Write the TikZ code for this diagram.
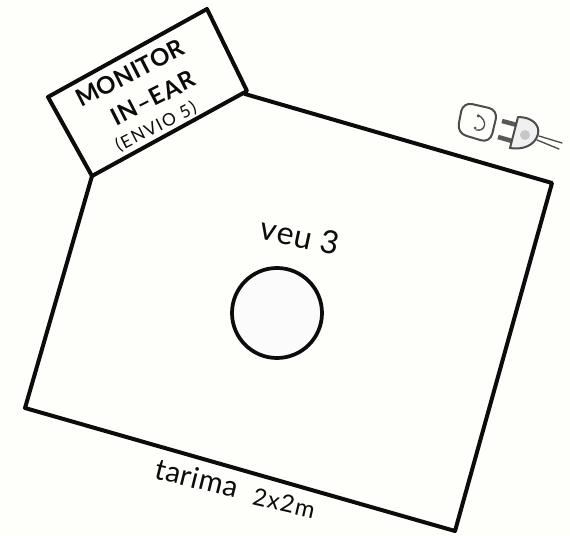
\documentclass[tikz,border=0pt]{standalone}
\usepackage{fontspec}
\setsansfont{Lato}
\definecolor{paper}{RGB}{254,254,251}
\definecolor{ink}{RGB}{12,12,12}
\tikzset{
  outline/.style={draw=ink,line width=3pt,line join=round,line cap=round},
  plugline/.style={draw=black!70,line width=1pt,line join=round,line cap=round},
  lab/.style={font=\sffamily,text=ink,inner sep=0pt}
}
\begin{document}
\begin{tikzpicture}[x=0.75pt,y=-0.75pt]
\fill[paper] (0,0) rectangle (570,535);
\useasboundingbox (0,0) rectangle (570,535);
\draw[outline] (92,176) -- (25,408) -- (455,531) -- (552,183) -- (245,94);
\draw[outline] (48,97) -- (207,9) -- (247,91) -- (92,176) -- cycle;
\draw[outline,line width=2.8pt,fill=black!1.5] (277,313) circle (45);
\foreach \x/\y/\rot/\siz/\spc/\wgt/\lab/\nam in {
  130/73/27/18/1/\bfseries/{MONITOR}/monitor,
  153/98/27/18/5/\bfseries/{IN--EAR}/inear,
  156/127/27/13/9/\mdseries/{(ENVIO 5)}/envio,
  300/236/-12/24/2/\mdseries/{veu 3}/veu,
  197/478/-14/22/2/\mdseries/{tarima}/tarima,
  284/503/-13/18/5/\mdseries/{2x2m}/size} {
  \node[lab,rotate=\rot,font=\sffamily\wgt\fontsize{\siz}{\siz}\selectfont\addfontfeature{LetterSpace=\spc}] (\nam) at (\x,\y) {\lab};
}
% socket
\draw[plugline,line width=1.5pt,rounded corners=7] (463,102) -- (498,110) -- (490,143) -- (457,133) -- cycle;
\draw[plugline] (478,115) .. controls (488,120) and (486,132) .. (476,130);
\foreach \x/\y in {478/116,475/128} {
  \fill[black!70] (\x,\y) circle (1.5);
}
% plug
\draw[black!65,line width=3.4pt] (502,121) -- (517,125);
\draw[black!65,line width=3.4pt] (498,137) -- (512,141);
\draw[plugline,line width=1.5pt,fill=black!6] (518,117) .. controls (532,117) and (540,125) .. (538,134) .. controls (535,146) and (522,150) .. (510,148) -- cycle;
\fill[black!22] (525,135) circle (5);
\draw[plugline] (539,136) -- (562,143);
\draw[plugline] (537,140) -- (559,149);
\end{tikzpicture}
\end{document}
